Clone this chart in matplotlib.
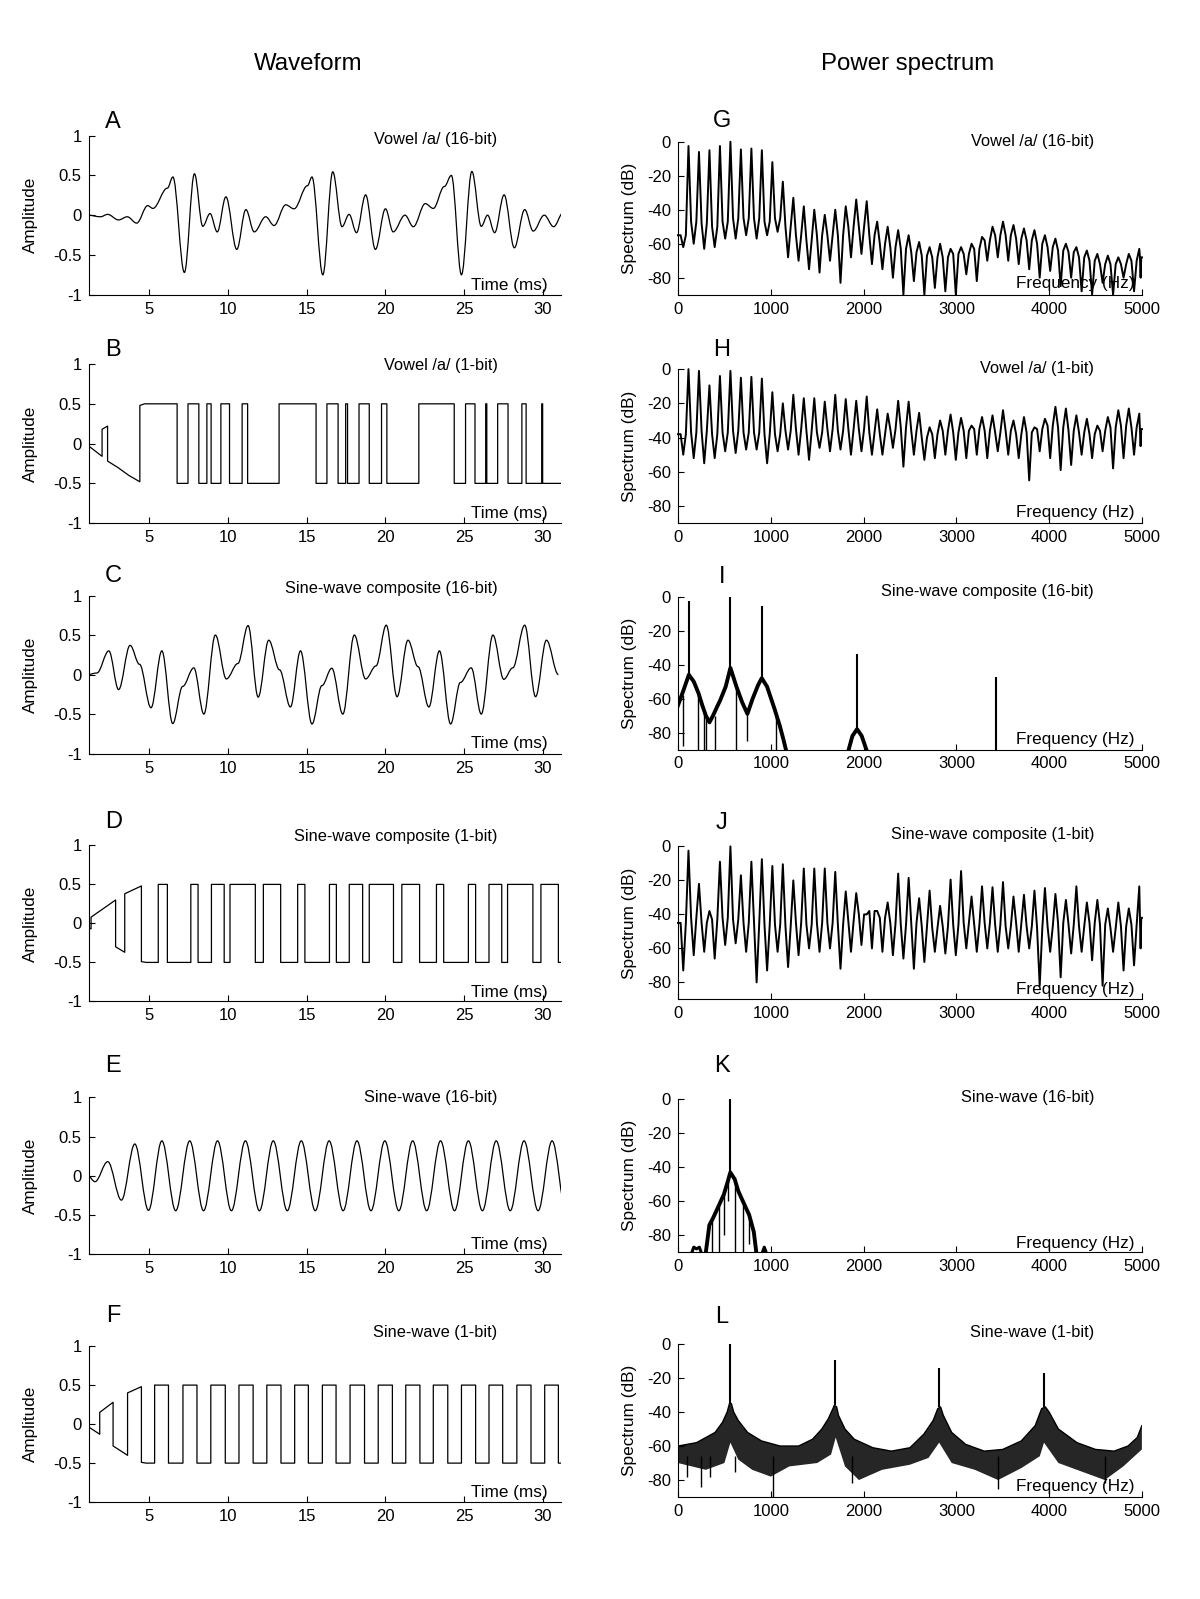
import matplotlib
matplotlib.use('Agg')
import matplotlib.pyplot as plt
from matplotlib.path import Path
from matplotlib.patches import PathPatch

plt.rcParams['font.family'] = ['Liberation Sans', 'DejaVu Sans']
plt.rcParams['axes.unicode_minus'] = False

## ---- waveform data (time in ms, amplitude) ----
# A: vowel /a/ 16-bit, local extrema
A_t = [1.1, 1.9, 2.35, 3.05, 3.6, 4.2, 4.9, 5.23, 6.15, 6.5, 7.23, 7.87, 8.4, 8.86, 9.32, 9.87,
       10.56, 11.14, 11.67, 12.4, 12.93, 13.67, 14.2, 15.05, 15.34, 16.03, 16.66, 17.25, 17.7,
       18.17, 18.75, 19.37, 20.01, 20.5, 21.25, 21.78, 22.54, 23.05, 23.75, 24.2, 24.84, 25.5,
       26.1, 26.5, 26.95, 27.55, 28.2, 28.86, 29.4, 30.1, 30.7, 31.3]
A_v = [0.0, -0.02, 0.01, -0.06, -0.02, -0.1, 0.12, 0.085, 0.34, 0.48, -0.72, 0.52, -0.14, 0.02,
       -0.21, 0.23, -0.43, 0.07, -0.21, -0.02, -0.13, 0.13, 0.08, 0.37, 0.48, -0.75, 0.545,
       -0.145, 0.01, -0.22, 0.255, -0.43, 0.08, -0.21, 0.0, -0.145, 0.145, 0.085, 0.36, 0.5,
       -0.75, 0.55, -0.14, 0.0, -0.22, 0.255, -0.41, 0.07, -0.2, 0.0, -0.145, 0.03]

# B: vowel /a/ 1-bit
B_lead_t = [1.1, 1.15, 1.15, 2.0, 2.0, 2.35, 2.35, 3.0, 3.7, 4.4, 4.4, 4.7]
B_lead_v = [0.07, 0.07, -0.03, -0.16, 0.18, 0.22, -0.22, -0.3, -0.4, -0.48, 0.48, 0.5]
B_switch = [6.77, 7.46, 8.15, 8.66, 8.93, 9.55, 10.1, 10.9, 11.25, 13.25, 15.6, 16.29, 17.0,
            17.48, 17.6, 18.33, 18.98, 19.76, 20.1, 22.13, 24.38, 25.1, 25.7, 26.38, 26.45,
            27.14, 27.8, 28.68, 28.95, 29.94, 30.0]

# C: sine-wave composite 16-bit
C_t = [1.1, 1.67, 2.43, 3.05, 3.78, 4.38, 5.11, 5.8, 6.49, 7.12, 7.83, 8.47, 9.2, 9.9, 10.63,
       11.28, 11.92, 12.59, 13.28, 13.97, 14.61, 15.34, 15.97, 16.6, 17.3, 18.03, 18.75, 19.41,
       20.06, 20.75, 21.44, 22.08, 22.77, 23.44, 24.15, 24.77, 25.46, 26.1, 26.84, 27.53, 28.1,
       28.86, 29.55, 30.24, 31.0]
C_v = [0.0, 0.02, 0.3, -0.19, 0.37, 0.13, -0.42, 0.3, -0.62, -0.15, 0.085, -0.5, 0.5, -0.055,
       0.14, 0.62, -0.285, 0.435, 0.06, -0.41, 0.3, -0.625, -0.14, 0.08, -0.5, 0.5, -0.055, 0.11,
       0.625, -0.28, 0.435, 0.1, -0.41, 0.3, -0.625, -0.1, 0.085, -0.5, 0.5, -0.06, 0.085, 0.625,
       -0.28, 0.435, 0.0]

# D: sine-wave composite 1-bit
D_lead_t = [1.1, 1.3, 1.3, 2.86, 2.86, 3.44, 3.44, 4.5, 4.5, 4.8]
D_lead_v = [-0.05, -0.07, 0.08, 0.3, -0.3, -0.37, 0.38, 0.48, -0.49, -0.5]
D_switch = [5.57, 6.15, 7.64, 8.1, 8.95, 9.76, 10.13, 11.74, 12.25, 13.35, 14.43, 14.89, 16.45,
            16.89, 17.71, 18.56, 18.98, 20.52, 21.05, 22.18, 23.25, 23.71, 25.28, 25.74, 26.59,
            27.4, 27.77, 29.38, 29.89, 31.0]

# E: sine-wave 16-bit
E_t = [1.1, 1.55, 2.36, 3.23, 4.08, 4.95, 5.8, 6.68, 7.57, 8.45, 9.34, 10.22, 11.11, 12.0,
       12.88, 13.77, 14.66, 15.55, 16.43, 17.32, 18.2, 19.09, 19.97, 20.86, 21.74, 22.63, 23.51,
       24.4, 25.28, 26.17, 27.05, 27.94, 28.82, 29.71, 30.6, 31.49]
E_v = [0.0, -0.075, 0.18, -0.31, 0.405, -0.44,
       0.445, -0.445, 0.445, -0.445, 0.445, -0.445, 0.445, -0.445, 0.445, -0.445,
       0.445, -0.445, 0.445, -0.445, 0.445, -0.445, 0.445, -0.445, 0.445, -0.445,
       0.445, -0.445, 0.445, -0.445, 0.445, -0.445, 0.445, -0.445, 0.445, -0.445]

# F: sine-wave 1-bit
F_lead_t = [1.1, 1.85, 1.85, 2.7, 2.7, 3.62, 3.62, 4.5, 4.5, 4.8]
F_lead_v = [-0.03, -0.13, 0.15, 0.28, -0.28, -0.4, 0.4, 0.48, -0.49, -0.5]
F_switch = [5.34, 6.22, 7.14, 8.03, 8.91, 9.83, 10.7, 11.6, 12.47, 13.37, 14.24, 15.11, 16.0,
            16.87, 17.76, 18.68, 19.55, 20.45, 21.3, 22.2, 23.05, 23.97, 24.84, 25.74, 26.59,
            27.46, 28.36, 29.26, 30.13, 31.0]

## ---- spectrum data (Hz, dB) ----
harmonic_hz = [113, 226, 339, 452, 565, 678, 791, 904, 1017, 1130, 1243, 1356, 1469, 1582,
               1695, 1808, 1921, 2034, 2147, 2260, 2373, 2486, 2599, 2712, 2825, 2938, 3051,
               3164, 3277, 3390, 3503, 3616, 3729, 3842, 3955, 4068, 4181, 4294, 4407, 4520,
               4633, 4746, 4859, 4972]

G_peak_db = [-2.5, -6, -5, -2.5, 0, -4.5, -4, -5, -12, -23.5, -33, -38, -40, -43, -40, -38, -34,
             -35, -47, -50, -52, -55, -59, -62, -60, -63, -62, -60, -56, -50, -47, -49, -51, -52,
             -55, -57, -60, -62, -64, -66, -67, -68, -66, -63]
G_floor_db = [-55, -47, -48, -50, -47, -45, -45, -45, -47, -45, -50, -55, -58, -55, -55, -55, -50,
              -50, -55, -60, -62, -63, -65, -67, -68, -68, -66, -66, -63, -58, -55, -55, -57, -58,
              -60, -62, -64, -65, -68, -70, -72, -72, -72, -70, -68]
G_dip_db = [-62, -60, -63, -62, -57, -57, -55, -57, -55, -53, -68, -70, -75, -77, -70, -83, -68,
            -66, -72, -75, -80, -90, -82, -90, -86, -88, -90, -78, -82, -70, -68, -70, -72, -75,
            -80, -76, -85, -80, -88, -90, -83, -90, -80, -88, -80]

H_peak_db = [0, -1, -9.5, -4, -1, -5, -4.5, -5.5, -13.5, -20, -15, -17, -17, -19, -15, -17.5,
             -18.5, -16, -23.5, -26, -18.5, -19, -25.5, -34, -30, -26.5, -28.5, -33, -28, -27,
             -24, -30, -28, -34, -29, -22, -23, -27, -29, -33, -28, -24, -23, -26]
H_floor_db = [-38, -37, -36, -38, -37, -36, -37, -37, -38, -38, -36, -35, -36, -37, -35, -36, -35,
              -35, -37, -38, -35, -34, -36, -40, -38, -36, -37, -36, -35, -36, -37, -36, -38, -37,
              -35, -33, -34, -36, -37, -38, -36, -34, -33, -34, -35]
H_dip_db = [-50, -52, -55, -52, -48, -49, -47, -47, -55, -48, -47, -50, -53, -46, -48, -47, -50,
            -48, -50, -50, -46, -57, -50, -53, -52, -50, -53, -52, -50, -52, -48, -50, -52, -65,
            -48, -52, -59, -56, -50, -52, -48, -58, -52, -50, -45]

J_peak_db = [-2.5, -22, -38, -9, 0, -17, -9, -7.5, -11.5, -10.5, -20, -13, -13, -13, -15, -26.5,
             -27.5, -40, -38, -33, -16, -18.5, -30.5, -26, -35, -19.5, -14.5, -29.5, -23.5, -24,
             -21, -29.5, -28.5, -26, -24.5, -28, -31.5, -23.5, -33, -31.5, -36.5, -33, -36.5, -23.5]
J_floor_db = [-45, -42, -45, -43, -42, -43, -45, -45, -46, -46, -47, -45, -46, -45, -45, -46, -44,
              -40, -38, -42, -45, -46, -45, -47, -48, -47, -46, -45, -46, -45, -46, -47, -45, -47,
              -48, -47, -45, -46, -47, -45, -46, -48, -47, -46, -42]
J_dip_db = [-73, -64, -62, -66, -58, -57, -62, -80, -73, -62, -71, -64, -60, -62, -60, -72, -62,
            -58, -60, -62, -64, -66, -72, -68, -62, -63, -64, -60, -62, -60, -62, -60, -62, -60,
            -82, -62, -77, -63, -62, -67, -82, -62, -73, -70, -60]

# I: composite 16-bit, side-lobe envelope + partials
I_env_hz = [0, 60, 117, 170, 222, 262, 300, 339, 378, 420, 455, 514, 565, 630, 690, 748, 805,
            864, 903, 960, 1040, 1097, 1136, 1163]
I_env_db = [-64, -55, -46, -50, -57, -64, -70, -74, -70, -65, -61, -53, -42, -53, -62, -69, -60,
            -52, -48, -53, -66, -76, -84, -90]
I_arch_hz = [1840, 1880, 1930, 1980, 2030]
I_arch_db = [-90, -82, -78, -82, -90]
I_peak_hz = [117, 565, 905, 1930, 3430]
I_peak_db = [-2.5, 0, -5.5, -34, -47.5]
I_peak_base_db = [-46, -42, -48, -78, -90]
I_null_hz = [55, 215, 280, 300, 398, 620, 745, 1060]
I_null_top_db = [-58, -57, -68, -72, -70, -52, -69, -70]
I_null_db = [-88, -90, -90, -90, -90, -90, -85, -90]

# K: sine 16-bit
K_env_hz = [300, 338, 377, 436, 494, 533, 564, 611, 650, 708, 767, 817, 844]
K_env_db = [-90, -74, -70, -63, -56, -49, -43, -47, -54, -61, -68, -78, -90]
K_low_hz = [150, 170, 200, 230, 250]
K_low_db = [-90, -87, -88, -87, -90]
K_high_hz = [910, 930, 950]
K_high_db = [-90, -87, -90]
K_peak_hz = [565]
K_peak_db = [0]
K_null_hz = [366, 440, 500, 540, 612, 705, 760]
K_null_top_db = [-71, -63, -55, -48, -47, -61, -67]
K_null_db = [-90, -90, -80, -60, -90, -90, -85]

# L: sine 1-bit, comb band between upper and lower envelopes
L_up_hz = [0, 200, 400, 480, 530, 555, 575, 600, 650, 750, 900, 1100, 1300, 1450, 1550, 1620,
           1670, 1685, 1710, 1730, 1800, 1900, 2100, 2300, 2500, 2650, 2750, 2800, 2830, 2860,
           2950, 3100, 3300, 3500, 3700, 3850, 3920, 3960, 4000, 4100, 4300, 4500, 4700, 4850,
           4950, 5000]
L_up_db = [-60, -58, -52, -46, -40, -35, -35, -40, -45, -52, -57, -60, -60, -56, -50, -44, -38,
           -36, -37, -42, -50, -56, -61, -63, -61, -53, -45, -38, -37, -42, -52, -59, -63, -62,
           -57, -48, -38, -37, -40, -50, -58, -62, -63, -60, -55, -48]
L_low_hz = [0, 300, 500, 565, 650, 800, 1000, 1200, 1500, 1650, 1700, 1800, 1950, 2200, 2500,
            2700, 2815, 2950, 3200, 3450, 3700, 3900, 3945, 4100, 4400, 4600, 4800, 5000]
L_low_db = [-70, -74, -70, -58, -68, -74, -78, -72, -70, -65, -55, -72, -80, -74, -71, -67, -58,
            -70, -74, -80, -73, -66, -58, -70, -76, -80, -72, -62]
L_peak_hz = [565, 1697, 2815, 3945]
L_peak_db = [0, -9.5, -14, -17]
L_peak_base_db = [-35, -36, -37, -37]
L_dip_hz = [100, 250, 350, 610, 1020, 1880, 3450, 4600]
L_dip_db = [-78, -84, -78, -75, -90, -82, -85, -82]

# reference pixel frame (as laid out in the source figure)
W, H = 1177.0, 1568.0
left_rows = [(133, 289), (357, 513), (584, 739), (829, 982), (1076, 1230), (1320, 1473)]
right_rows = [(139, 289), (362, 513), (585, 735), (830, 980), (1078, 1228), (1318, 1468)]
letters_left = [('A', 120), ('B', 343), ('C', 565), ('D', 806), ('E', 1045), ('F', 1290)]
letters_right = [('G', 119), ('H', 343), ('I', 566), ('J', 807), ('K', 1045), ('L', 1291)]
titles = ['Vowel /a/ (16-bit)', 'Vowel /a/ (1-bit)', 'Sine-wave composite (16-bit)',
          'Sine-wave composite (1-bit)', 'Sine-wave (16-bit)', 'Sine-wave (1-bit)']
title_y_left = [137, 358, 577, 820, 1076, 1307]
title_y_right = [139, 361, 580, 818, 1076, 1307]
xlab_y_left = [280, 504, 729, 973, 1220, 1464]
xlab_y_right = [278, 503, 725, 970, 1219, 1458]


def smooth_path(t, v):
    # cubic bezier through the extrema, flat tangent at each one
    verts = [(t[0], v[0])]
    codes = [Path.MOVETO]
    for i in range(1, len(t)):
        dt = t[i] - t[i - 1]
        verts += [(t[i - 1] + 0.36 * dt, v[i - 1]), (t[i] - 0.36 * dt, v[i]), (t[i], v[i])]
        codes += [Path.CURVE4] * 3
    return Path(verts, codes)


def square_trace(lead_t, lead_v, switches, t_end):
    t = list(lead_t)
    v = list(lead_v)
    level = lead_v[-1]
    for s in switches:
        t += [s, s]
        v += [level, -level]
        level = -level
    t.append(t_end)
    v.append(level)
    return t, v


def harmonic_trace(peaks, floors, dips):
    edges = [0] + harmonic_hz + [5000]
    f = [0]
    d = [floors[0]]
    for k in range(len(edges) - 1):
        lo, hi = edges[k], edges[k + 1]
        if k > 0:
            f.append(lo)
            d.append(peaks[k - 1])
        w = hi - lo
        f += [lo + 0.25 * w, lo + 0.5 * w, lo + 0.75 * w]
        d += [floors[k], dips[k], floors[k]]
    f.append(5000)
    d.append(floors[-1])
    return f, d


def style(ax):
    ax.spines['top'].set_visible(False)
    ax.spines['right'].set_visible(False)
    for s in ['left', 'bottom']:
        ax.spines[s].set_linewidth(0.8)
    ax.tick_params(direction='in', length=4, width=0.8, labelsize=12, pad=5)


fig = plt.figure(figsize=(12, 15.99), dpi=100)

fig.text(302 / W, 1 - 63 / H, 'Waveform', ha='center', va='center', fontsize=17.3)
fig.text(890 / W, 1 - 63 / H, 'Power spectrum', ha='center', va='center', fontsize=17.3)

left_axes = []
right_axes = []
for i in range(6):
    top, bot = left_rows[i]
    ax = fig.add_axes([87 / W, 1 - bot / H, (550 - 87) / W, (bot - top) / H])
    style(ax)
    ax.set_xlim(1.15, 31.15)
    ax.set_ylim(-1, 1)
    ax.set_xticks([5, 10, 15, 20, 25, 30])
    ax.set_yticks([-1, -0.5, 0, 0.5, 1])
    ax.set_yticklabels(['-1', '-0.5', '0', '0.5', '1'])
    left_axes.append(ax)
    fig.text(30 / W, 1 - (top + bot) / 2 / H, 'Amplitude', rotation=90, ha='center',
             va='center', fontsize=12.3)
    fig.text(488 / W, 1 - title_y_left[i] / H, titles[i], ha='right', va='center', fontsize=11.8)
    fig.text(537 / W, 1 - xlab_y_left[i] / H, 'Time (ms)', ha='right', va='center', fontsize=12.3)
    fig.text(111 / W, 1 - letters_left[i][1] / H, letters_left[i][0], ha='center', va='center',
             fontsize=17)

    top, bot = right_rows[i]
    ax = fig.add_axes([665 / W, 1 - bot / H, (1120 - 665) / W, (bot - top) / H])
    style(ax)
    ax.set_xlim(0, 5000)
    ax.set_ylim(-90, 0)
    ax.set_xticks([0, 1000, 2000, 3000, 4000, 5000])
    ax.set_yticks([-80, -60, -40, -20, 0])
    right_axes.append(ax)
    fig.text(617 / W, 1 - (top + bot) / 2 / H, 'Spectrum (dB)', rotation=90, ha='center',
             va='center', fontsize=12.4)
    fig.text(1073 / W, 1 - title_y_right[i] / H, titles[i], ha='right', va='center', fontsize=11.8)
    fig.text(1113 / W, 1 - xlab_y_right[i] / H, 'Frequency (Hz)', ha='right', va='center',
             fontsize=12.3)
    fig.text(708 / W, 1 - letters_right[i][1] / H, letters_right[i][0], ha='center', va='center',
             fontsize=17)

lw_w = 0.9
# smooth waveforms
for ax, t, v in [(left_axes[0], A_t, A_v), (left_axes[2], C_t, C_v), (left_axes[4], E_t, E_v)]:
    ax.add_patch(PathPatch(smooth_path(t, v), fill=False, edgecolor='black', lw=lw_w))

# 1-bit waveforms
for ax, lt, lv, sw in [(left_axes[1], B_lead_t, B_lead_v, B_switch),
                       (left_axes[3], D_lead_t, D_lead_v, D_switch),
                       (left_axes[5], F_lead_t, F_lead_v, F_switch)]:
    t, v = square_trace(lt, lv, sw, 31.15)
    ax.plot(t, v, color='black', lw=lw_w)

# noisy harmonic spectra
for ax, p, fl, dp in [(right_axes[0], G_peak_db, G_floor_db, G_dip_db),
                      (right_axes[1], H_peak_db, H_floor_db, H_dip_db),
                      (right_axes[3], J_peak_db, J_floor_db, J_dip_db)]:
    f, d = harmonic_trace(p, fl, dp)
    ax.plot(f, d, color='black', lw=1.4, clip_on=False)

# I
ax = right_axes[2]
ax.plot(I_env_hz, I_env_db, color='black', lw=2.8)
ax.plot(I_arch_hz, I_arch_db, color='black', lw=2.8)
ax.vlines(I_peak_hz, I_peak_base_db, I_peak_db, color='black', lw=1.5)
ax.vlines(I_null_hz, I_null_db, I_null_top_db, color='black', lw=1.0)

# K
ax = right_axes[4]
ax.plot(K_env_hz, K_env_db, color='black', lw=2.8)
ax.plot(K_low_hz, K_low_db, color='black', lw=2.2)
ax.plot(K_high_hz, K_high_db, color='black', lw=2.2)
ax.vlines(K_peak_hz, [-43], K_peak_db, color='black', lw=1.5, clip_on=False)
ax.vlines(K_null_hz, K_null_db, K_null_top_db, color='black', lw=1.0)

# L
ax = right_axes[5]
ax.fill(L_up_hz + L_low_hz[::-1], L_up_db + L_low_db[::-1], color='black', alpha=0.85, lw=0)
ax.plot(L_up_hz, L_up_db, color='black', lw=1.0)
ax.vlines(L_peak_hz, L_peak_base_db, L_peak_db, color='black', lw=1.5, clip_on=False)
ax.vlines(L_dip_hz, [-66] * len(L_dip_hz), L_dip_db, color='black', lw=1.0)

fig.savefig('out.png', dpi=100)
